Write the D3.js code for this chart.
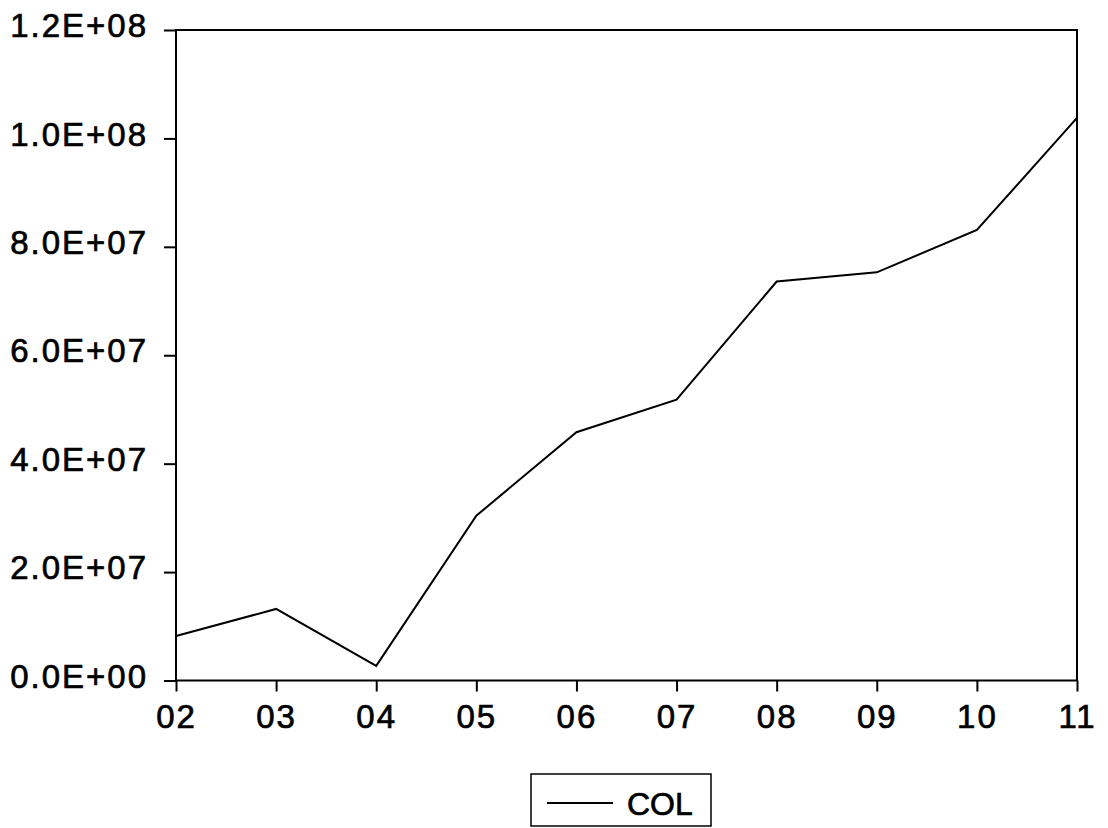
<!DOCTYPE html>
<html>
<head>
<meta charset="utf-8">
<style>
  body { margin: 0; background: #fff; }
  text { font-family: "Liberation Sans", Arial, sans-serif; fill: #000; stroke: #000; stroke-width: 0.7px; }
</style>
</head>
<body>
<div id="chart"></div>
<script src="https://d3js.org/d3.v7.min.js"></script>
<script>
// data
var years = ["02", "03", "04", "05", "06", "07", "08", "09", "10", "11"]
var col = [8.2e6, 13.2e6, 2.7e6, 30.4e6, 45.8e6, 51.8e6, 73.6e6, 75.3e6, 83.1e6, 103.8e6]
var yTicks = [0, 2e7, 4e7, 6e7, 8e7, 1e8, 1.2e8]
var yTickLabels = ["0.0E+00", "2.0E+07", "4.0E+07", "6.0E+07", "8.0E+07", "1.0E+08", "1.2E+08"]

var width = 1108
    height = 828
var plotLeft = 176, plotRight = 1077, plotTop = 30, plotBottom = 680.5

var svg = d3.select("#chart")
  .append("svg")
    .attr("width", width)
    .attr("height", height)

var x = d3.scalePoint()
  .domain(years)
  .range([plotLeft, plotRight])

var y = d3.scaleLinear()
  .domain([0, 1.2e8])
  .range([plotBottom, plotTop])

// frame
svg.append("rect")
  .attr("x", plotLeft)
  .attr("y", plotTop)
  .attr("width", plotRight - plotLeft)
  .attr("height", plotBottom - plotTop)
  .attr("fill", "none")
  .attr("stroke", "#000")
  .attr("stroke-width", 2)

// y axis
var yAxis = svg.append("g")
  .attr("transform", "translate(" + plotLeft + ",0)")
  .call(d3.axisLeft(y)
    .tickValues(yTicks)
    .tickSize(12)
    .tickPadding(16)
    .tickFormat(function(d, i) { return yTickLabels[i] }))
yAxis.select(".domain").remove()
yAxis.selectAll("line").attr("stroke", "#000").attr("stroke-width", 2)
yAxis.selectAll("text")
  .attr("font-size", null)
  .attr("font-family", null)
  .style("font-size", "33px")
  .style("letter-spacing", "2px")
  .attr("dy", "0.2em")

// x axis
var xAxis = svg.append("g")
  .attr("transform", "translate(0," + plotBottom + ")")
  .call(d3.axisBottom(x)
    .tickSize(11)
    .tickPadding(13))
xAxis.select(".domain").remove()
xAxis.selectAll("line").attr("stroke", "#000").attr("stroke-width", 2)
xAxis.selectAll("text")
  .attr("font-size", null)
  .attr("font-family", null)
  .style("font-size", "33px")
  .style("letter-spacing", "2px")

// the series
var line = d3.line()
  .x(function(d, i) { return x(years[i]) })
  .y(function(d) { return y(d) })

svg.append("path")
  .datum(col)
  .attr("d", line)
  .attr("fill", "none")
  .attr("stroke", "#000")
  .attr("stroke-width", 2)

// legend
var legend = svg.append("g")
legend.append("rect")
  .attr("x", 531)
  .attr("y", 774)
  .attr("width", 180)
  .attr("height", 52)
  .attr("fill", "#fff")
  .attr("stroke", "#000")
  .attr("stroke-width", 1.5)
legend.append("line")
  .attr("x1", 547)
  .attr("x2", 613)
  .attr("y1", 803)
  .attr("y2", 803)
  .attr("stroke", "#000")
  .attr("stroke-width", 2)
legend.append("text")
  .attr("x", 627)
  .attr("y", 815)
  .style("font-size", "32px")
  .text("COL")
</script>
</body>
</html>
